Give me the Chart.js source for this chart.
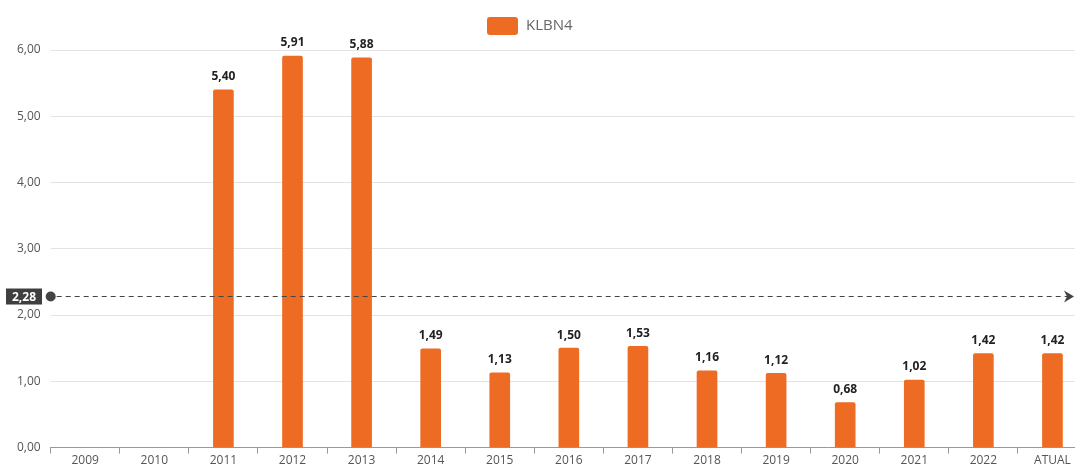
<!DOCTYPE html>
<html>
<head>
<meta charset="utf-8">
<script src="https://cdn.jsdelivr.net/npm/chart.js@4.4.0/dist/chart.umd.min.js"></script>
<style>
  html, body { margin: 0; padding: 0; background: #fff; overflow: hidden; }
  #wrap { width: 1075px; height: 469px; overflow: hidden; position: relative; }
  #inner { width: 1087px; height: 469px; position: relative; }
</style>
</head>
<body>
<div id="wrap"><div id="inner"><canvas id="grafico"></canvas></div></div>
<script>
// dados
const anos = ['2009', '2010', '2011', '2012', '2013', '2014', '2015', '2016', '2017', '2018', '2019', '2020', '2021', '2022', 'ATUAL']
const valores = [null, null, 5.40, 5.91, 5.88, 1.49, 1.13, 1.50, 1.53, 1.16, 1.12, 0.68, 1.02, 1.42, 1.42]
const media = 2.28
const serie = 'KLBN4'
const yTicks = [0, 1, 2, 3, 4, 5, 6]

const laranja = '#ee6b23'
const fmt = v => v.toFixed(2).replace('.', ',')

// rotulo em cima de cada barra
const rotulos = {
  id: 'rotulos',
  afterDatasetsDraw(chart) {
    const c = chart.ctx
    const meta = chart.getDatasetMeta(0)
    c.save()
    c.font = 'bold 12px "Open Sans", sans-serif'
    c.fillStyle = '#222'
    c.textAlign = 'center'
    c.textBaseline = 'bottom'
    meta.data.forEach((bar, i) => {
      if (valores[i] == null) return
      c.fillText(fmt(valores[i]), bar.x, bar.y - 7)
    })
    c.restore()
  }
}

// legenda desenhada na mao (posicao igual a original)
const legenda = {
  id: 'legenda',
  afterDraw(chart) {
    const c = chart.ctx
    c.save()
    c.fillStyle = laranja
    c.beginPath()
    c.roundRect(487, 17, 31, 18, 3)
    c.fill()
    c.fillStyle = '#666'
    c.font = '15px "Open Sans", sans-serif'
    c.textAlign = 'left'
    c.textBaseline = 'middle'
    c.fillText(serie, 526, 26)
    c.restore()
  }
}

// linha da media
const linhaMedia = {
  id: 'linhaMedia',
  afterDatasetsDraw(chart) {
    const c = chart.ctx
    const area = chart.chartArea
    const y = chart.scales.y.getPixelForValue(media)
    const xe = 1074
    c.save()
    c.strokeStyle = '#444'
    c.lineWidth = 1
    c.setLineDash([5, 4])
    c.beginPath()
    c.moveTo(area.left + 6, y)
    c.lineTo(xe - 6, y)
    c.stroke()
    c.setLineDash([])
    c.fillStyle = '#444'
    c.beginPath()
    c.arc(area.left, y, 5, 0, Math.PI * 2)
    c.fill()
    // seta
    c.beginPath()
    c.moveTo(xe, y)
    c.lineTo(xe - 10, y - 6)
    c.lineTo(xe - 7, y)
    c.lineTo(xe - 10, y + 6)
    c.closePath()
    c.fill()
    // caixa
    c.fillStyle = '#3f3f3f'
    c.fillRect(6, y - 8, 36, 16)
    c.fillStyle = '#fff'
    c.font = 'bold 12px "Open Sans", sans-serif'
    c.textAlign = 'center'
    c.textBaseline = 'middle'
    c.fillText(fmt(media), 24, y + 1)
    c.restore()
  }
}

new Chart(document.querySelector('#grafico'), {
  type: 'bar',
  data: {
    labels: anos,
    datasets: [{
      label: serie,
      data: valores,
      backgroundColor: laranja,
      borderColor: laranja,
      borderRadius: 2,
      borderSkipped: 'bottom',
      barThickness: 20
    }]
  },
  options: {
    responsive: true,
    maintainAspectRatio: false,
    animation: false,
    layout: { padding: { left: 7, right: 0, top: 50, bottom: 1 } },
    plugins: {
      legend: { display: false },
      tooltip: { enabled: false }
    },
    scales: {
      x: {
        grid: { display: true, drawOnChartArea: false, tickLength: 6, color: '#999', offset: true },
        border: { color: '#999' },
        ticks: { color: '#555', font: { size: 12, family: '"Open Sans", sans-serif' }, padding: 0 }
      },
      y: {
        min: 0,
        max: 6,
        afterBuildTicks: axis => { axis.ticks = yTicks.map(v => ({ value: v })) },
        grid: { color: '#e3e3e3', tickLength: 0 },
        border: { display: false },
        ticks: {
          color: '#555',
          padding: 10,
          font: { size: 12, family: '"Open Sans", sans-serif' },
          callback: v => fmt(v)
        }
      }
    }
  },
  plugins: [rotulos, linhaMedia, legenda]
})
</script>
</body>
</html>
